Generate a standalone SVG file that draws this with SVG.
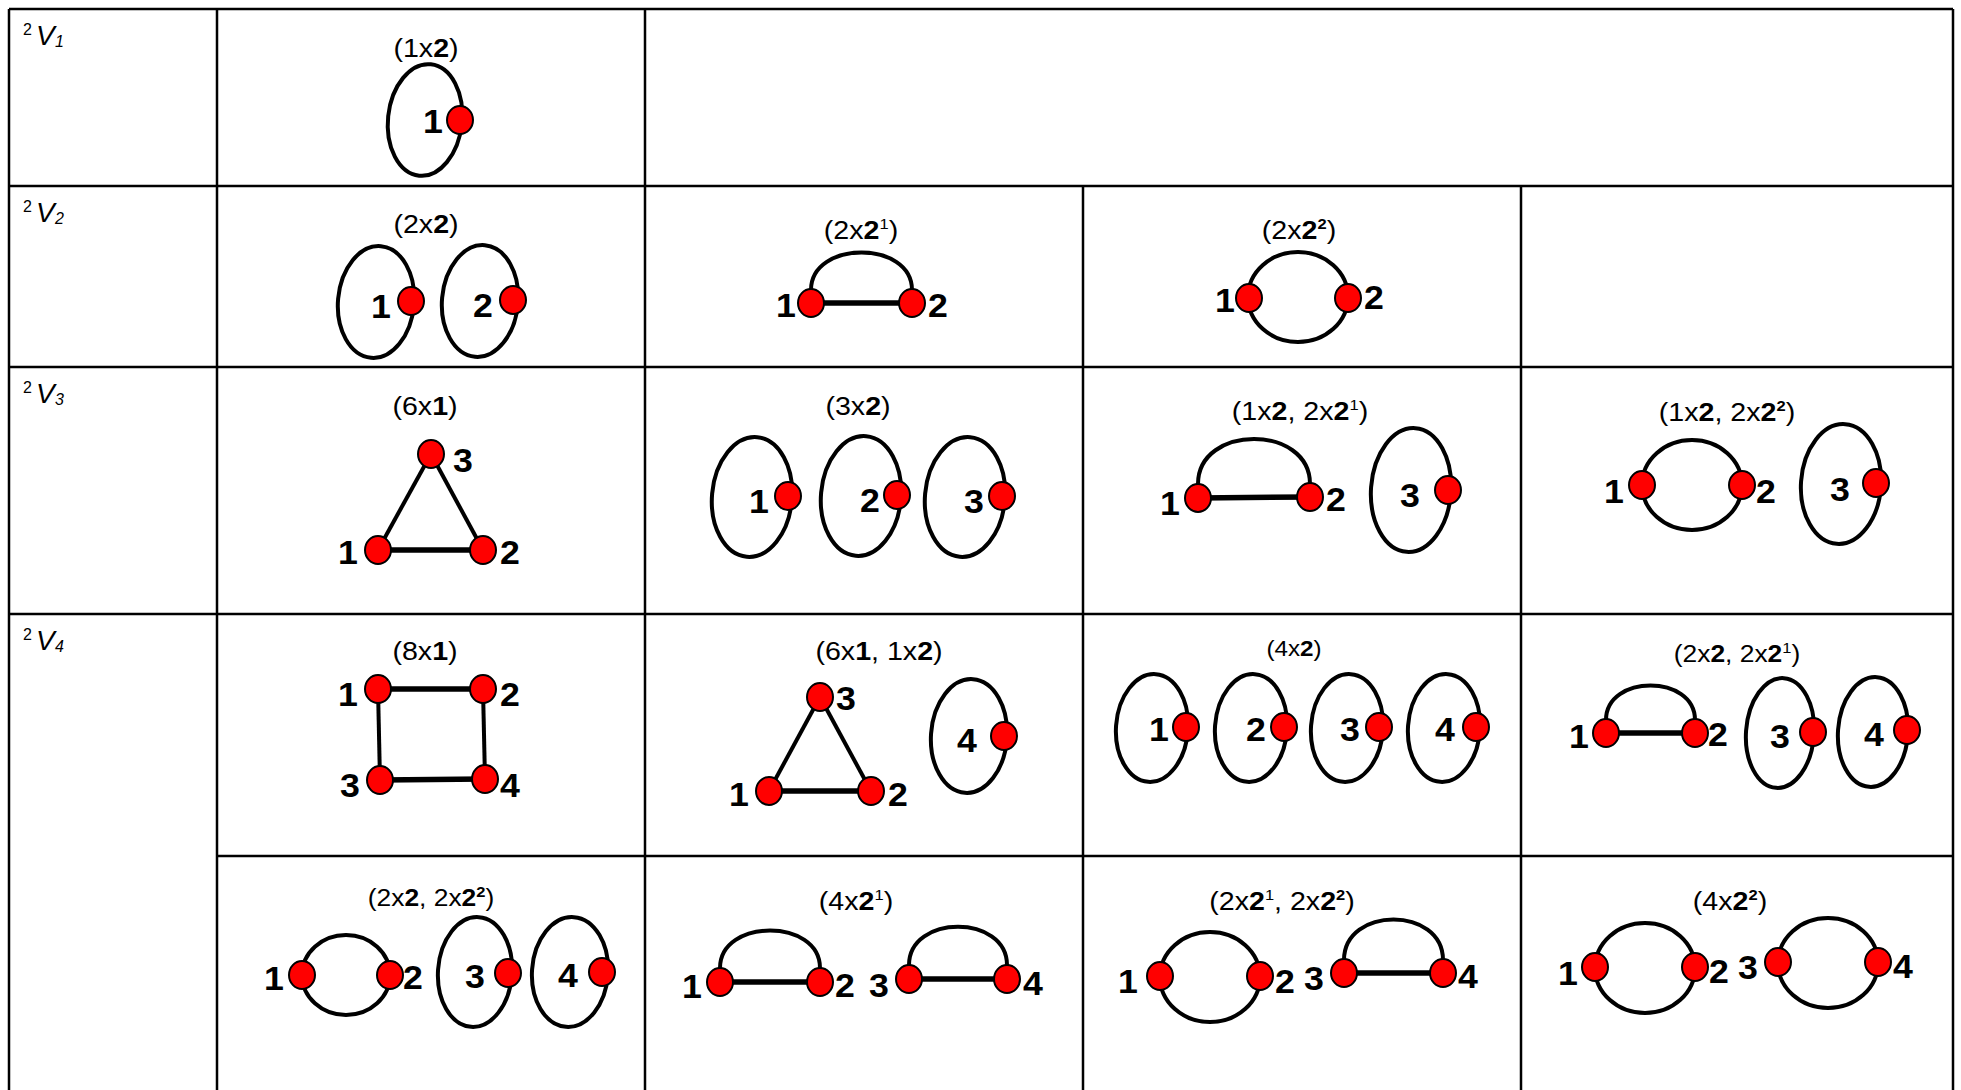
<svg xmlns="http://www.w3.org/2000/svg" width="1961" height="1090" viewBox="0 0 1961 1090">
<style>
.grid{stroke:#000;stroke-width:2.5;fill:none}
.loop{fill:none;stroke:#000;stroke-width:4}
.edge{stroke:#000;stroke-width:5.5;fill:none}
.thin{stroke:#000;stroke-width:4;fill:none}
.v{fill:#ff0000;stroke:#000;stroke-width:2}
.lbl{font-family:"Liberation Sans",Arial,sans-serif;font-weight:bold;font-size:34px;fill:#000}
.cap{font-family:"Liberation Sans",Arial,sans-serif;font-size:26px;text-anchor:middle;fill:#000}
.sm{font-size:24px}
.xs{font-size:22px}
.b{font-weight:bold}
.sup{font-size:15px}
.rl{font-family:"Liberation Sans",Arial,sans-serif;font-size:28px;fill:#000}
.rs{font-size:16px}
.it{font-style:italic}
</style>
<rect width="1961" height="1090" fill="#fff"/>
<g id="table">
<line class="grid" x1="9" y1="9" x2="1953" y2="9"/>
<line class="grid" x1="9" y1="186" x2="1953" y2="186"/>
<line class="grid" x1="9" y1="367" x2="1953" y2="367"/>
<line class="grid" x1="9" y1="614" x2="1953" y2="614"/>
<line class="grid" x1="217" y1="856" x2="1953" y2="856"/>
<line class="grid" x1="9" y1="9" x2="9" y2="1090"/>
<line class="grid" x1="217" y1="9" x2="217" y2="1090"/>
<line class="grid" x1="645" y1="9" x2="645" y2="1090"/>
<line class="grid" x1="1083" y1="186" x2="1083" y2="1090"/>
<line class="grid" x1="1521" y1="186" x2="1521" y2="1090"/>
<line class="grid" x1="1953" y1="9" x2="1953" y2="1090"/>
</g>
<g id="row-labels">
<g id="rl1"><text class="rl rs" x="23" y="35">2</text><text class="rl it" x="36" y="45">V</text><text class="rl rs it" x="55" y="47">1</text></g>
<g id="rl2"><text class="rl rs" x="23" y="212">2</text><text class="rl it" x="36" y="222">V</text><text class="rl rs it" x="55" y="224">2</text></g>
<g id="rl3"><text class="rl rs" x="23" y="393">2</text><text class="rl it" x="36" y="403">V</text><text class="rl rs it" x="55" y="405">3</text></g>
<g id="rl4"><text class="rl rs" x="23" y="640">2</text><text class="rl it" x="36" y="650">V</text><text class="rl rs it" x="55" y="652">4</text></g>
</g>
<g id="connectors">
<ellipse class="loop" cx="425" cy="120" rx="37" ry="56" transform="rotate(6 425 120)"/>
<ellipse class="loop" cx="376" cy="302" rx="38" ry="56" transform="rotate(5 376 302)"/>
<ellipse class="loop" cx="480" cy="301" rx="38" ry="56" transform="rotate(5 480 301)"/>
<line class="edge" x1="811" y1="303" x2="912" y2="303"/>
<path class="thin" d="M811 290 C811 240 912 240 912 290"/>
<ellipse class="loop" cx="1298" cy="297" rx="50" ry="45"/>
<line class="edge" x1="378" y1="550" x2="483" y2="550"/>
<line class="thin" x1="378" y1="550" x2="431" y2="454"/>
<line class="thin" x1="431" y1="454" x2="483" y2="550"/>
<ellipse class="loop" cx="752" cy="497" rx="40" ry="60" transform="rotate(5 752 497)"/>
<ellipse class="loop" cx="861" cy="496" rx="40" ry="60" transform="rotate(5 861 496)"/>
<ellipse class="loop" cx="965" cy="497" rx="40" ry="60" transform="rotate(5 965 497)"/>
<line class="edge" x1="1198" y1="498" x2="1310" y2="497"/>
<path class="thin" d="M1198 484 C1198 424 1310 424 1310 484"/>
<ellipse class="loop" cx="1411" cy="490" rx="40" ry="62" transform="rotate(4 1411 490)"/>
<ellipse class="loop" cx="1692" cy="485" rx="50" ry="45"/>
<ellipse class="loop" cx="1841" cy="484" rx="40" ry="60" transform="rotate(4 1841 484)"/>
<line class="edge" x1="378" y1="689" x2="483" y2="689"/>
<line class="edge" x1="380" y1="780" x2="485" y2="779"/>
<line class="thin" x1="378" y1="689" x2="380" y2="780"/>
<line class="thin" x1="483" y1="689" x2="485" y2="779"/>
<line class="edge" x1="769" y1="791" x2="871" y2="791"/>
<line class="thin" x1="769" y1="791" x2="820" y2="697"/>
<line class="thin" x1="820" y1="697" x2="871" y2="791"/>
<ellipse class="loop" cx="969" cy="736" rx="38" ry="57" transform="rotate(4 969 736)"/>
<ellipse class="loop" cx="1152" cy="728" rx="36" ry="54" transform="rotate(4 1152 728)"/>
<ellipse class="loop" cx="1251" cy="728" rx="36" ry="54" transform="rotate(4 1251 728)"/>
<ellipse class="loop" cx="1347" cy="728" rx="36" ry="54" transform="rotate(4 1347 728)"/>
<ellipse class="loop" cx="1444" cy="728" rx="36" ry="54" transform="rotate(4 1444 728)"/>
<line class="edge" x1="1606" y1="733" x2="1695" y2="733"/>
<path class="thin" d="M1606 720 C1606 674 1695 674 1695 720"/>
<ellipse class="loop" cx="1780" cy="733" rx="34" ry="55" transform="rotate(4 1780 733)"/>
<ellipse class="loop" cx="1873" cy="732" rx="35" ry="55" transform="rotate(4 1873 732)"/>
<ellipse class="loop" cx="346" cy="975" rx="44" ry="40"/>
<ellipse class="loop" cx="475" cy="972" rx="37" ry="55" transform="rotate(4 475 972)"/>
<ellipse class="loop" cx="570" cy="972" rx="38" ry="55" transform="rotate(4 570 972)"/>
<line class="edge" x1="720" y1="982" x2="820" y2="982"/>
<path class="thin" d="M720 968 C720 918 820 918 820 968"/>
<line class="edge" x1="909" y1="979" x2="1007" y2="979"/>
<path class="thin" d="M909 965 C909 914 1007 914 1007 965"/>
<ellipse class="loop" cx="1210" cy="977" rx="50" ry="45"/>
<line class="edge" x1="1344" y1="973" x2="1443" y2="973"/>
<path class="thin" d="M1344 960 C1344 906 1443 906 1443 960"/>
<ellipse class="loop" cx="1645" cy="968" rx="50" ry="45"/>
<ellipse class="loop" cx="1828" cy="963" rx="50" ry="45"/>
</g>
<g id="c11">
<text class="cap" transform="translate(426 57) scale(1.1 1)">(1x<tspan class="b">2</tspan>)</text>
<g id="c11-v1"><ellipse class="v" cx="460" cy="120" rx="13" ry="14"/><text class="lbl" transform="translate(423 133) scale(1.05 1)">1</text></g>
</g>
<g id="c21">
<text class="cap" transform="translate(426 233) scale(1.1 1)">(2x<tspan class="b">2</tspan>)</text>
<g id="c21-v1"><ellipse class="v" cx="411" cy="301" rx="13" ry="14"/><text class="lbl" transform="translate(371 318) scale(1.05 1)">1</text></g>
<g id="c21-v2"><ellipse class="v" cx="513" cy="300" rx="13" ry="14"/><text class="lbl" transform="translate(473 317) scale(1.05 1)">2</text></g>
</g>
<g id="c22">
<text class="cap" transform="translate(861 239) scale(1.1 1)">(2x<tspan class="b">2</tspan><tspan class="sup" dy="-10">1</tspan><tspan dy="10">)</tspan></text>
<g id="c22-v1"><ellipse class="v" cx="811" cy="303" rx="13" ry="14"/><text class="lbl" transform="translate(776 317) scale(1.05 1)">1</text></g>
<g id="c22-v2"><ellipse class="v" cx="912" cy="303" rx="13" ry="14"/><text class="lbl" transform="translate(928 317) scale(1.05 1)">2</text></g>
</g>
<g id="c23">
<text class="cap" transform="translate(1299 239) scale(1.1 1)">(2x<tspan class="b">2</tspan><tspan class="sup b" dy="-10">2</tspan><tspan dy="10">)</tspan></text>
<g id="c23-v1"><ellipse class="v" cx="1249" cy="298" rx="13" ry="14"/><text class="lbl" transform="translate(1215 312) scale(1.05 1)">1</text></g>
<g id="c23-v2"><ellipse class="v" cx="1348" cy="298" rx="13" ry="14"/><text class="lbl" transform="translate(1364 309) scale(1.05 1)">2</text></g>
</g>
<g id="c31">
<text class="cap" transform="translate(425 415) scale(1.1 1)">(6x<tspan class="b">1</tspan>)</text>
<g id="c31-v3"><ellipse class="v" cx="431" cy="454" rx="13" ry="14"/><text class="lbl" transform="translate(453 472) scale(1.05 1)">3</text></g>
<g id="c31-v1"><ellipse class="v" cx="378" cy="550" rx="13" ry="14"/><text class="lbl" transform="translate(338 564) scale(1.05 1)">1</text></g>
<g id="c31-v2"><ellipse class="v" cx="483" cy="550" rx="13" ry="14"/><text class="lbl" transform="translate(500 564) scale(1.05 1)">2</text></g>
</g>
<g id="c32">
<text class="cap" transform="translate(858 415) scale(1.1 1)">(3x<tspan class="b">2</tspan>)</text>
<g id="c32-v1"><ellipse class="v" cx="788" cy="496" rx="13" ry="14"/><text class="lbl" transform="translate(749 513) scale(1.05 1)">1</text></g>
<g id="c32-v2"><ellipse class="v" cx="897" cy="495" rx="13" ry="14"/><text class="lbl" transform="translate(860 512) scale(1.05 1)">2</text></g>
<g id="c32-v3"><ellipse class="v" cx="1002" cy="496" rx="13" ry="14"/><text class="lbl" transform="translate(964 513) scale(1.05 1)">3</text></g>
</g>
<g id="c33">
<text class="cap" transform="translate(1300 420) scale(1.1 1)">(1x<tspan class="b">2</tspan>, 2x<tspan class="b">2</tspan><tspan class="sup" dy="-10">1</tspan><tspan dy="10">)</tspan></text>
<g id="c33-v1"><ellipse class="v" cx="1198" cy="498" rx="13" ry="14"/><text class="lbl" transform="translate(1160 515) scale(1.05 1)">1</text></g>
<g id="c33-v2"><ellipse class="v" cx="1310" cy="497" rx="13" ry="14"/><text class="lbl" transform="translate(1326 511) scale(1.05 1)">2</text></g>
<g id="c33-v3"><ellipse class="v" cx="1448" cy="490" rx="13" ry="14"/><text class="lbl" transform="translate(1400 507) scale(1.05 1)">3</text></g>
</g>
<g id="c34">
<text class="cap" transform="translate(1727 421) scale(1.1 1)">(1x<tspan class="b">2</tspan>, 2x<tspan class="b">2</tspan><tspan class="sup b" dy="-10">2</tspan><tspan dy="10">)</tspan></text>
<g id="c34-v1"><ellipse class="v" cx="1642" cy="485" rx="13" ry="14"/><text class="lbl" transform="translate(1604 503) scale(1.05 1)">1</text></g>
<g id="c34-v2"><ellipse class="v" cx="1742" cy="485" rx="13" ry="14"/><text class="lbl" transform="translate(1756 503) scale(1.05 1)">2</text></g>
<g id="c34-v3"><ellipse class="v" cx="1876" cy="483" rx="13" ry="14"/><text class="lbl" transform="translate(1830 501) scale(1.05 1)">3</text></g>
</g>
<g id="c41">
<text class="cap" transform="translate(425 660) scale(1.1 1)">(8x<tspan class="b">1</tspan>)</text>
<g id="c41-v1"><ellipse class="v" cx="378" cy="689" rx="13" ry="14"/><text class="lbl" transform="translate(338 706) scale(1.05 1)">1</text></g>
<g id="c41-v2"><ellipse class="v" cx="483" cy="689" rx="13" ry="14"/><text class="lbl" transform="translate(500 706) scale(1.05 1)">2</text></g>
<g id="c41-v3"><ellipse class="v" cx="380" cy="780" rx="13" ry="14"/><text class="lbl" transform="translate(340 797) scale(1.05 1)">3</text></g>
<g id="c41-v4"><ellipse class="v" cx="485" cy="779" rx="13" ry="14"/><text class="lbl" transform="translate(500 797) scale(1.05 1)">4</text></g>
</g>
<g id="c42">
<text class="cap" transform="translate(879 660) scale(1.1 1)">(6x<tspan class="b">1</tspan>, 1x<tspan class="b">2</tspan>)</text>
<g id="c42-v3"><ellipse class="v" cx="820" cy="697" rx="13" ry="14"/><text class="lbl" transform="translate(836 710) scale(1.05 1)">3</text></g>
<g id="c42-v1"><ellipse class="v" cx="769" cy="791" rx="13" ry="14"/><text class="lbl" transform="translate(729 806) scale(1.05 1)">1</text></g>
<g id="c42-v2"><ellipse class="v" cx="871" cy="791" rx="13" ry="14"/><text class="lbl" transform="translate(888 806) scale(1.05 1)">2</text></g>
<g id="c42-v4"><ellipse class="v" cx="1004" cy="736" rx="13" ry="14"/><text class="lbl" transform="translate(957 752) scale(1.05 1)">4</text></g>
</g>
<g id="c43">
<text class="cap xs" transform="translate(1294 656) scale(1.1 1)">(4x<tspan class="b">2</tspan>)</text>
<g id="c43-v1"><ellipse class="v" cx="1186" cy="727" rx="13" ry="14"/><text class="lbl" transform="translate(1149 741) scale(1.05 1)">1</text></g>
<g id="c43-v2"><ellipse class="v" cx="1284" cy="727" rx="13" ry="14"/><text class="lbl" transform="translate(1246 741) scale(1.05 1)">2</text></g>
<g id="c43-v3"><ellipse class="v" cx="1379" cy="727" rx="13" ry="14"/><text class="lbl" transform="translate(1340 741) scale(1.05 1)">3</text></g>
<g id="c43-v4"><ellipse class="v" cx="1476" cy="727" rx="13" ry="14"/><text class="lbl" transform="translate(1435 741) scale(1.05 1)">4</text></g>
</g>
<g id="c44">
<text class="cap sm" transform="translate(1737 662) scale(1.1 1)">(2x<tspan class="b">2</tspan>, 2x<tspan class="b">2</tspan><tspan class="sup" dy="-9">1</tspan><tspan dy="9">)</tspan></text>
<g id="c44-v1"><ellipse class="v" cx="1606" cy="733" rx="13" ry="14"/><text class="lbl" transform="translate(1569 748) scale(1.05 1)">1</text></g>
<g id="c44-v2"><ellipse class="v" cx="1695" cy="733" rx="13" ry="14"/><text class="lbl" transform="translate(1708 746) scale(1.05 1)">2</text></g>
<g id="c44-v3"><ellipse class="v" cx="1813" cy="732" rx="13" ry="14"/><text class="lbl" transform="translate(1770 748) scale(1.05 1)">3</text></g>
<g id="c44-v4"><ellipse class="v" cx="1907" cy="730" rx="13" ry="14"/><text class="lbl" transform="translate(1864 746) scale(1.05 1)">4</text></g>
</g>
<g id="c51">
<text class="cap sm" transform="translate(431 906) scale(1.1 1)">(2x<tspan class="b">2</tspan>, 2x<tspan class="b">2</tspan><tspan class="sup b" dy="-9">2</tspan><tspan dy="9">)</tspan></text>
<g id="c51-v1"><ellipse class="v" cx="302" cy="975" rx="13" ry="14"/><text class="lbl" transform="translate(264 990) scale(1.05 1)">1</text></g>
<g id="c51-v2"><ellipse class="v" cx="390" cy="975" rx="13" ry="14"/><text class="lbl" transform="translate(403 989) scale(1.05 1)">2</text></g>
<g id="c51-v3"><ellipse class="v" cx="508" cy="973" rx="13" ry="14"/><text class="lbl" transform="translate(465 988) scale(1.05 1)">3</text></g>
<g id="c51-v4"><ellipse class="v" cx="602" cy="972" rx="13" ry="14"/><text class="lbl" transform="translate(558 987) scale(1.05 1)">4</text></g>
</g>
<g id="c52">
<text class="cap" transform="translate(856 910) scale(1.1 1)">(4x<tspan class="b">2</tspan><tspan class="sup" dy="-10">1</tspan><tspan dy="10">)</tspan></text>
<g id="c52-v1"><ellipse class="v" cx="720" cy="982" rx="13" ry="14"/><text class="lbl" transform="translate(682 998) scale(1.05 1)">1</text></g>
<g id="c52-v2"><ellipse class="v" cx="820" cy="982" rx="13" ry="14"/><text class="lbl" transform="translate(835 997) scale(1.05 1)">2</text></g>
<g id="c52-v3"><ellipse class="v" cx="909" cy="979" rx="13" ry="14"/><text class="lbl" transform="translate(869 997) scale(1.05 1)">3</text></g>
<g id="c52-v4"><ellipse class="v" cx="1007" cy="979" rx="13" ry="14"/><text class="lbl" transform="translate(1023 995) scale(1.05 1)">4</text></g>
</g>
<g id="c53">
<text class="cap" transform="translate(1282 910) scale(1.1 1)">(2x<tspan class="b">2</tspan><tspan class="sup" dy="-10">1</tspan><tspan dy="10">, 2x</tspan><tspan class="b">2</tspan><tspan class="sup b" dy="-10">2</tspan><tspan dy="10">)</tspan></text>
<g id="c53-v1"><ellipse class="v" cx="1160" cy="976" rx="13" ry="14"/><text class="lbl" transform="translate(1118 993) scale(1.05 1)">1</text></g>
<g id="c53-v2"><ellipse class="v" cx="1260" cy="976" rx="13" ry="14"/><text class="lbl" transform="translate(1275 993) scale(1.05 1)">2</text></g>
<g id="c53-v3"><ellipse class="v" cx="1344" cy="973" rx="13" ry="14"/><text class="lbl" transform="translate(1304 990) scale(1.05 1)">3</text></g>
<g id="c53-v4"><ellipse class="v" cx="1443" cy="973" rx="13" ry="14"/><text class="lbl" transform="translate(1458 988) scale(1.05 1)">4</text></g>
</g>
<g id="c54">
<text class="cap" transform="translate(1730 910) scale(1.1 1)">(4x<tspan class="b">2</tspan><tspan class="sup b" dy="-10">2</tspan><tspan dy="10">)</tspan></text>
<g id="c54-v1"><ellipse class="v" cx="1595" cy="967" rx="13" ry="14"/><text class="lbl" transform="translate(1558 985) scale(1.05 1)">1</text></g>
<g id="c54-v2"><ellipse class="v" cx="1695" cy="967" rx="13" ry="14"/><text class="lbl" transform="translate(1709 983) scale(1.05 1)">2</text></g>
<g id="c54-v3"><ellipse class="v" cx="1778" cy="962" rx="13" ry="14"/><text class="lbl" transform="translate(1738 979) scale(1.05 1)">3</text></g>
<g id="c54-v4"><ellipse class="v" cx="1878" cy="962" rx="13" ry="14"/><text class="lbl" transform="translate(1893 978) scale(1.05 1)">4</text></g>
</g>
</svg>
